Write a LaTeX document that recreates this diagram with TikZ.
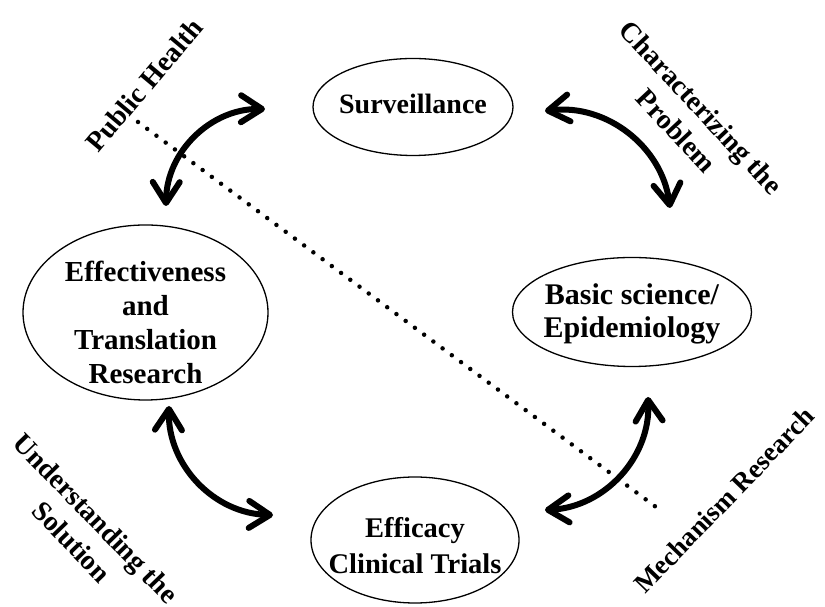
\documentclass[tikz,border=0pt]{standalone}
\usepackage{fontspec}
\setmainfont{Liberation Serif}
\usetikzlibrary{shapes.geometric,arrows.meta}
\begin{document}
\begin{tikzpicture}[x=1pt,y=1pt,
  txt/.style={font=\fontsize{28}{34}\selectfont\bfseries, align=center, inner sep=0pt},
  oval/.style={ellipse, draw, line width=1.3pt, inner sep=0pt},
  barb/.tip={Straight Barb[length=21pt,width=27pt,line cap=round,line join=round]},
  cyc/.style={line width=6pt, barb-barb},
  dots/.style={line width=4.5pt, line cap=round, dash pattern=on 0pt off 11.5pt}
]
\useasboundingbox (0,0) rectangle (825,607);
% nodes
\node[oval, minimum width=200pt, minimum height=97pt,
  label={[txt, yshift=3pt]center:Surveillance}] (surv) at (413,500) {};
\node[oval, minimum width=245pt, minimum height=175pt,
  label={[txt, font=\fontsize{29}{34}\selectfont\bfseries, yshift=-10pt]center:Effectiveness\\and\\Translation\\Research}] (eff) at (145.5,294.5) {};
\node[oval, minimum width=239pt, minimum height=109pt,
  label={[txt, font=\fontsize{30}{33}\selectfont\bfseries, yshift=-2pt]center:Basic science/\\Epidemiology}] (basic) at (632,295) {};
\node[oval, minimum width=208pt, minimum height=126pt,
  label={[txt, font=\fontsize{28.5}{36}\selectfont\bfseries, yshift=-6pt]center:Efficacy\\Clinical Trials}] (trial) at (415,67) {};
% labels
\node[txt, rotate=50] (ph) at (144,522) {Public Health};
\node[txt, rotate=-47] (cp) at (689,488) {Characterizing the\\Problem};
\node[txt, rotate=-46] (us) at (84,77) {Understanding the\\Solution};
\node[txt, rotate=46, font=\fontsize{27}{32}\selectfont\bfseries] (mr) at (724,107) {Mechanism Research};
% dotted line
\coordinate (d1) at (138,485);
\coordinate (d2) at (660,97);
\draw[dots] (d1) -- (d2);
% arrow ends
\coordinate (a1s) at (166,401); \coordinate (a1e) at (265,498);
\coordinate (a2s) at (545,496); \coordinate (a2e) at (670,399);
\coordinate (a3s) at (169,201); \coordinate (a3e) at (273,92);
\coordinate (a4s) at (648,210); \coordinate (a4e) at (545,97);
\draw[cyc] (a1s) to[bend left=45] (a1e);
\draw[cyc] (a2s) to[bend left=45] (a2e);
\draw[cyc] (a3s) to[bend right=45] (a3e);
\draw[cyc] (a4s) to[bend left=45] (a4e);
\end{tikzpicture}
\end{document}
